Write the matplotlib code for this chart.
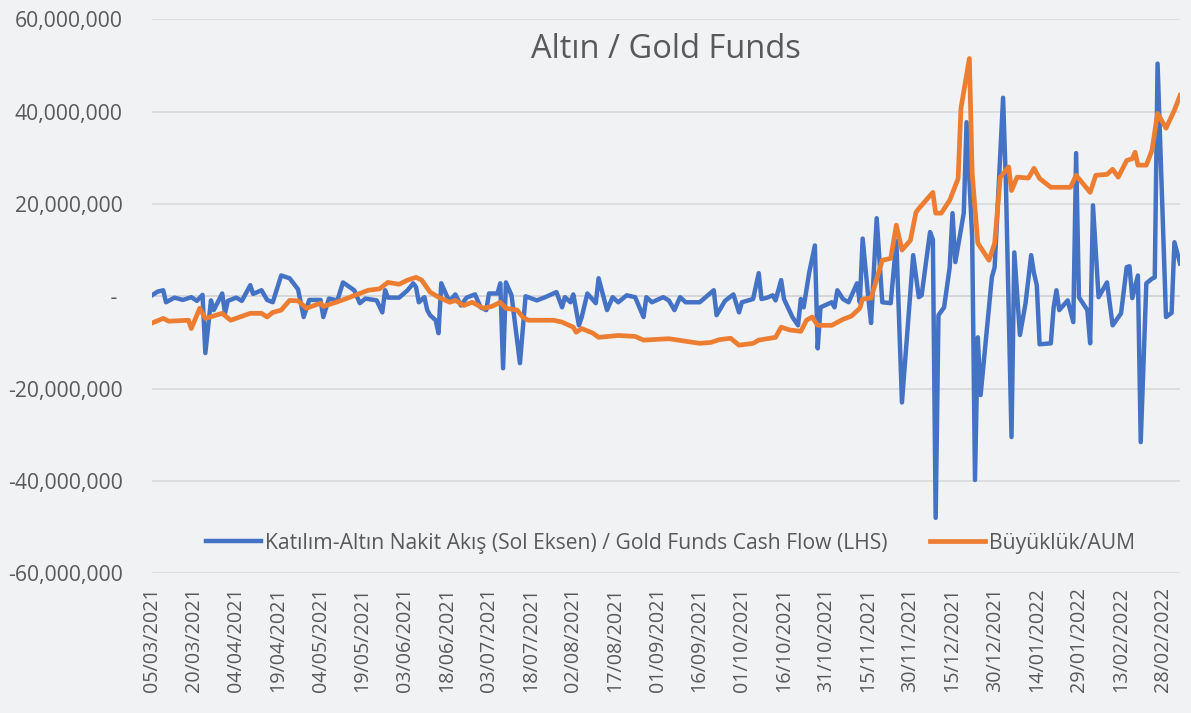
import pandas as pd
import matplotlib.pyplot as plt
from matplotlib.ticker import FuncFormatter, FixedLocator

plt.rcParams['font.family'] = ['Open Sans', 'DejaVu Sans']

# Gold funds cash flow (LHS), millions TRY
flow_dates = [
    '2021-03-05', '2021-03-07', '2021-03-09', '2021-03-10', '2021-03-13', '2021-03-16',
    '2021-03-19', '2021-03-21', '2021-03-23', '2021-03-24', '2021-03-26', '2021-03-27',
    '2021-03-30', '2021-03-31', '2021-04-01', '2021-04-04', '2021-04-06', '2021-04-09',
    '2021-04-10', '2021-04-13', '2021-04-15', '2021-04-17', '2021-04-20', '2021-04-23',
    '2021-04-26', '2021-04-28', '2021-04-30', '2021-05-04', '2021-05-05', '2021-05-07',
    '2021-05-10', '2021-05-12', '2021-05-16', '2021-05-18', '2021-05-20', '2021-05-24',
    '2021-05-26', '2021-05-27', '2021-05-28', '2021-06-01', '2021-06-04', '2021-06-06',
    '2021-06-07', '2021-06-08', '2021-06-10', '2021-06-11', '2021-06-12', '2021-06-14',
    '2021-06-15', '2021-06-16', '2021-06-18', '2021-06-19', '2021-06-21', '2021-06-23',
    '2021-06-25', '2021-06-28', '2021-06-30', '2021-07-02', '2021-07-03', '2021-07-06',
    '2021-07-07', '2021-07-08', '2021-07-09', '2021-07-11', '2021-07-14', '2021-07-16',
    '2021-07-20', '2021-07-23', '2021-07-27', '2021-07-29', '2021-07-30', '2021-08-01',
    '2021-08-02', '2021-08-04', '2021-08-05', '2021-08-07', '2021-08-10', '2021-08-11',
    '2021-08-14', '2021-08-16', '2021-08-18', '2021-08-21', '2021-08-24', '2021-08-27',
    '2021-08-28', '2021-08-30', '2021-09-03', '2021-09-05', '2021-09-07', '2021-09-09',
    '2021-09-11', '2021-09-16', '2021-09-21', '2021-09-22', '2021-09-25', '2021-09-28',
    '2021-09-30', '2021-10-01', '2021-10-05', '2021-10-07', '2021-10-08', '2021-10-10',
    '2021-10-12', '2021-10-13', '2021-10-15', '2021-10-16', '2021-10-19', '2021-10-21',
    '2021-10-22', '2021-10-23', '2021-10-25', '2021-10-27', '2021-10-28', '2021-10-29',
    '2021-11-02', '2021-11-03', '2021-11-04', '2021-11-06', '2021-11-08', '2021-11-11',
    '2021-11-12', '2021-11-13', '2021-11-15', '2021-11-16', '2021-11-18', '2021-11-20',
    '2021-11-23', '2021-11-25', '2021-11-27', '2021-12-01', '2021-12-03', '2021-12-04',
    '2021-12-07', '2021-12-08', '2021-12-09', '2021-12-10', '2021-12-12', '2021-12-14',
    '2021-12-15', '2021-12-16', '2021-12-19', '2021-12-20', '2021-12-22', '2021-12-23',
    '2021-12-24', '2021-12-25', '2021-12-29', '2021-12-30', '2022-01-02', '2022-01-03',
    '2022-01-05', '2022-01-06', '2022-01-08', '2022-01-10', '2022-01-12', '2022-01-13',
    '2022-01-14', '2022-01-15', '2022-01-19', '2022-01-20', '2022-01-21', '2022-01-22',
    '2022-01-25', '2022-01-27', '2022-01-28', '2022-01-29', '2022-02-01', '2022-02-02',
    '2022-02-03', '2022-02-05', '2022-02-08', '2022-02-10', '2022-02-13', '2022-02-15',
    '2022-02-16', '2022-02-17', '2022-02-19', '2022-02-20', '2022-02-22', '2022-02-24',
    '2022-02-25', '2022-02-26', '2022-03-01', '2022-03-03', '2022-03-04', '2022-03-06',
]
flow_values = [
    0.2, 1.0, 1.3, -1.3, -0.3, -0.8,
    -0.2, -1.0, 0.3, -12.3, -0.9, -3.0,
    0.6, -3.7, -1.0, -0.3, -1.0, 2.4,
    0.5, 1.3, -0.8, -1.3, 4.5, 3.9,
    1.5, -4.5, -0.8, -0.8, -4.5, -0.5,
    -0.9, 3.0, 1.3, -1.5, -0.5, -0.9,
    -3.5, 1.3, -0.3, -0.3, 1.3, 2.8,
    2.0, -1.3, -0.2, -3.0, -4.1, -5.2,
    -8.0, 2.8, 0.0, -1.0, 0.4, -2.0,
    -0.3, 0.4, -2.4, -3.0, 0.6, 0.6,
    2.8, -15.6, 3.0, 0.2, -14.5, 0.0,
    -0.9, -0.2, 0.9, -2.4, -0.2, -1.3,
    0.4, -6.3, -4.5, 0.6, -1.5, 3.9,
    -3.0, -0.2, -1.3, 0.2, -0.2, -4.5,
    -0.2, -1.3, -0.2, -0.9, -3.0, -0.2,
    -1.3, -1.3, 1.3, -4.1, -1.0, 0.4,
    -3.5, -1.3, -0.6, 5.0, -0.6, -0.3,
    0.2, -0.9, 3.5, -0.6, -4.5, -6.3,
    -0.6, -2.4, 5.2, 11.0, -11.3, -2.4,
    -1.3, -2.4, 1.3, -0.6, -1.3, 2.8,
    -1.3, 12.5, -0.2, -5.8, 16.9, -1.3,
    -1.5, 12.0, -23.0, 8.9, -0.2, 0.2,
    13.9, 12.3, -48.0, -4.1, -2.4, 6.3,
    18.0, 7.4, 18.0, 37.7, 12.8, -39.8,
    -8.9, -21.4, 4.1, 6.3, 43.0, 24.5,
    -30.5, 9.5, -8.4, -1.5, 8.9, 5.0,
    2.4, -10.4, -10.2, -2.4, 1.3, -3.0,
    -0.9, -5.6, 31.0, -0.2, -3.0, -10.2,
    19.7, -0.2, 3.0, -6.3, -3.7, 6.3,
    6.5, -0.4, 4.5, -31.6, 2.8, 3.8,
    4.1, 50.4, -4.5, -3.6, 11.7, 7.1,
]

# Fund size (AUM), millions TRY
aum_dates = [
    '2021-03-05', '2021-03-09', '2021-03-11', '2021-03-18', '2021-03-19', '2021-03-22',
    '2021-03-24', '2021-03-30', '2021-04-02', '2021-04-09', '2021-04-13', '2021-04-15',
    '2021-04-17', '2021-04-20', '2021-04-23', '2021-04-26', '2021-04-29', '2021-05-04',
    '2021-05-05', '2021-05-07', '2021-05-11', '2021-05-21', '2021-05-25', '2021-05-28',
    '2021-06-01', '2021-06-04', '2021-06-07', '2021-06-09', '2021-06-12', '2021-06-15',
    '2021-06-19', '2021-06-21', '2021-06-24', '2021-06-27', '2021-07-01', '2021-07-04',
    '2021-07-07', '2021-07-09', '2021-07-13', '2021-07-15', '2021-07-17', '2021-07-26',
    '2021-07-29', '2021-08-02', '2021-08-03', '2021-08-05', '2021-08-09', '2021-08-11',
    '2021-08-18', '2021-08-24', '2021-08-27', '2021-09-05', '2021-09-16', '2021-09-20',
    '2021-09-23', '2021-09-27', '2021-09-30', '2021-10-05', '2021-10-07', '2021-10-13',
    '2021-10-15', '2021-10-18', '2021-10-22', '2021-10-24', '2021-10-26', '2021-10-28',
    '2021-11-02', '2021-11-06', '2021-11-09', '2021-11-12', '2021-11-13', '2021-11-16',
    '2021-11-20', '2021-11-23', '2021-11-25', '2021-11-27', '2021-11-30', '2021-12-02',
    '2021-12-03', '2021-12-08', '2021-12-09', '2021-12-11', '2021-12-14', '2021-12-17',
    '2021-12-18', '2021-12-21', '2021-12-22', '2021-12-24', '2021-12-28', '2021-12-30',
    '2022-01-01', '2022-01-04', '2022-01-05', '2022-01-07', '2022-01-11', '2022-01-13',
    '2022-01-15', '2022-01-19', '2022-01-26', '2022-01-28', '2022-02-02', '2022-02-04',
    '2022-02-08', '2022-02-10', '2022-02-12', '2022-02-15', '2022-02-17', '2022-02-18',
    '2022-02-19', '2022-02-22', '2022-02-24', '2022-02-26', '2022-03-01', '2022-03-04',
    '2022-03-06',
]
aum_values = [
    -5.8, -4.8, -5.4, -5.2, -7.0, -2.6,
    -4.8, -3.7, -5.2, -3.7, -3.7, -4.5,
    -3.5, -3.0, -0.9, -1.0, -2.6, -1.5,
    -2.2, -1.8, -1.0, 1.3, 1.6, 3.0,
    2.6, 3.5, 4.1, 3.5, 0.9, -0.2,
    -1.3, -0.9, -2.0, -1.3, -2.6, -2.2,
    -1.3, -2.6, -3.0, -4.5, -5.2, -5.2,
    -5.6, -6.7, -7.8, -7.0, -8.0, -8.9,
    -8.5, -8.7, -9.5, -9.2, -10.2, -10.0,
    -9.4, -9.1, -10.6, -10.2, -9.5, -8.9,
    -6.7, -7.3, -7.6, -5.2, -4.5, -6.3,
    -6.3, -5.0, -4.3, -2.6, -0.6, -0.4,
    7.8, 8.2, 15.4, 10.0, 12.1, 18.2,
    19.0, 22.5, 18.0, 18.0, 20.8, 25.5,
    40.7, 51.5, 26.6, 11.5, 7.8, 11.5,
    25.8, 28.0, 22.9, 25.8, 25.6, 27.7,
    25.5, 23.6, 23.6, 26.2, 22.5, 26.2,
    26.4, 27.5, 25.8, 29.4, 29.8, 31.2,
    28.4, 28.4, 31.6, 39.6, 36.4, 40.3,
    43.5,
]

tick_dates = pd.date_range('2021-03-05', periods=25, freq='15D')
y_ticks = [-60e6, -40e6, -20e6, 0, 20e6, 40e6, 60e6]

flow_x = pd.to_datetime(flow_dates)
flow_y = [v * 1e6 for v in flow_values]
aum_x = pd.to_datetime(aum_dates)
aum_y = [v * 1e6 for v in aum_values]

bg = '#f1f2f4'
txt = '#595959'

fig = plt.figure(figsize=(11.91, 7.13), dpi=100, facecolor=bg)
ax = fig.add_axes([0.1276, 0.196, 0.8632, 0.777], facecolor=bg)

ax.plot(flow_x, flow_y, color='#4472C4', lw=3.2, solid_joinstyle='round',
        label='Katılım-Altın Nakit Akış (Sol Eksen) / Gold Funds Cash Flow (LHS)', zorder=3)
ax.plot(aum_x, aum_y, color='#ED7D31', lw=3.4, solid_joinstyle='round',
        label='Büyüklük/AUM', zorder=4)

ax.set_ylim(-60e6, 60e6)
ax.set_xlim(pd.Timestamp('2021-03-05'), pd.Timestamp('2022-03-06'))
ax.yaxis.set_major_locator(FixedLocator(y_ticks))
ax.yaxis.set_major_formatter(FuncFormatter(lambda v, p: ' - ' if v == 0 else f'{v:,.0f}'))
ax.set_xticks(tick_dates)
ax.set_xticklabels([d.strftime('%d/%m/%Y') for d in tick_dates], rotation=90)

ax.grid(axis='y', color='#d9d9d9', lw=1.2)
ax.axhline(0, color='#c8c8c8', lw=1.2, zorder=1)
for s in ax.spines.values():
    s.set_visible(False)
ax.tick_params(length=0, colors=txt)
ax.tick_params(axis='y', pad=21, labelsize=15.2)
ax.tick_params(axis='x', pad=10, labelsize=14.2)

ax.text(0.5, 0.975, 'Altın / Gold Funds', transform=ax.transAxes, ha='center', va='top',
        fontsize=23.5, color=txt)

fig.legend(loc='center', bbox_to_anchor=(0.563, 0.238), ncol=2, frameon=False,
           fontsize=15.2, labelcolor=txt, handlelength=2.6, columnspacing=2.0,
           handletextpad=0.2)

fig.savefig('out.png', dpi=100, facecolor=bg)
